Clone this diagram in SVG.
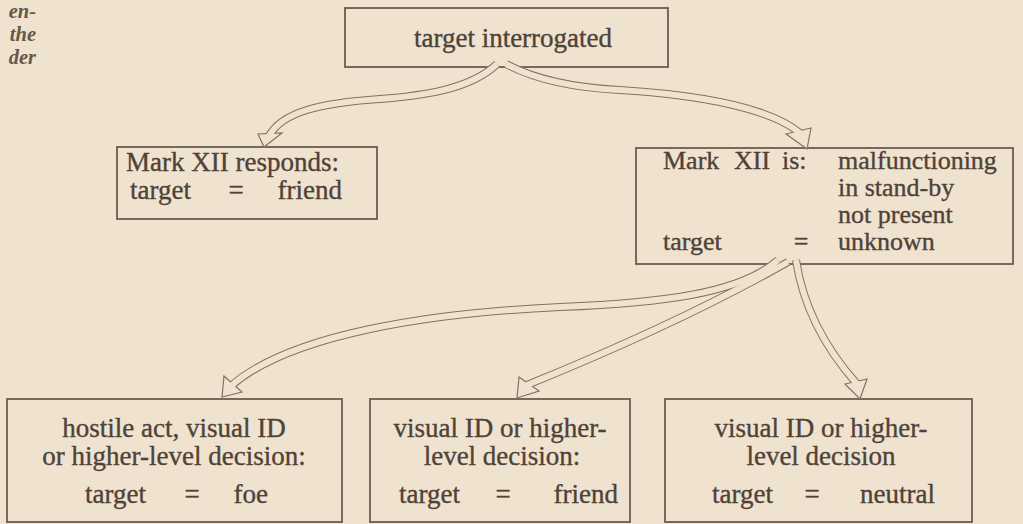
<svg xmlns="http://www.w3.org/2000/svg" xmlns:xlink="http://www.w3.org/1999/xlink" width="1023" height="524" viewBox="0 0 1023 524">
<style>
.bg{fill:#efe3cf}
.box{fill:none;stroke:#6a5d4f;stroke-width:1.8}
.t{font-family:"Liberation Serif","Times New Roman",serif;font-size:27px;fill:#4f4238;stroke:#4f4238;stroke-width:0.35}
.s{font-size:26px}
.m{text-anchor:middle}
.e{text-anchor:end}
.it{font-family:"Liberation Serif","Times New Roman",serif;font-size:20.5px;font-style:italic;font-weight:bold;fill:#66574a;text-anchor:end}
.outer{fill:none;stroke:#7f7262;stroke-width:8}
.inner{fill:none;stroke:#efe3cf;stroke-width:6}
.head{fill:#efe3cf;stroke:#7f7262;stroke-width:1.2;stroke-linejoin:miter}
</style>
<defs>
<path id="p1" d="M 497 64 C 470 90, 420 96, 380 99 C 320 103, 282 112, 269 136"/>
<path id="p2" d="M 506 64 C 540 82, 580 88, 620 90 C 700 95, 770 108, 800 133"/>
<path id="pA" d="M 778 260 C 740 294, 660 303, 560 307 C 430 313, 290 334, 231 386"/>
<path id="pB" d="M 788 262 Q 680 323, 527 385"/>
<path id="pC" d="M 796 260 C 803 306, 825 348, 857 384"/>
</defs>
<rect class="bg" x="0" y="0" width="1023" height="524"/>
<g id="margin-text">
<text class="it" x="36" y="18">en-</text>
<text class="it" x="36" y="41">the</text>
<text class="it" x="36" y="64">der</text>
</g>
<g id="node-interrogated">
<rect class="box" x="345" y="8" width="323" height="59"/>
<text class="t m" x="513" y="47">target interrogated</text>
</g>
<g id="node-responds">
<rect class="box" x="117" y="147" width="260" height="72"/>
<text class="t" x="126" y="171">Mark XII responds:</text>
<text class="t" x="130" y="199">target</text>
<text class="t m" x="236" y="199">=</text>
<text class="t e" x="342" y="199">friend</text>
</g>
<g id="node-unknown">
<rect class="box" x="636" y="148" width="377" height="116"/>
<text class="t s" y="169"><tspan x="663">Mark</tspan><tspan x="734">XII</tspan><tspan x="782">is:</tspan></text>
<text class="t s" x="838" y="169">malfunctioning</text>
<text class="t s" x="838" y="196">in stand-by</text>
<text class="t s" x="838" y="223">not present</text>
<text class="t s" x="663" y="250">target</text>
<text class="t s m" x="801" y="250">=</text>
<text class="t s" x="838" y="250">unknown</text>
</g>
<g id="node-foe">
<rect class="box" x="7" y="399" width="335" height="123"/>
<text class="t m" x="174" y="437">hostile act, visual ID</text>
<text class="t m" x="174" y="465">or higher-level decision:</text>
<text class="t" x="85" y="503">target</text>
<text class="t m" x="192" y="503">=</text>
<text class="t e" x="268" y="503">foe</text>
</g>
<g id="node-friend">
<rect class="box" x="370" y="399" width="260" height="123"/>
<text class="t m" x="500" y="437">visual ID or higher-</text>
<text class="t m" x="502" y="465">level decision:</text>
<text class="t" x="399" y="503">target</text>
<text class="t m" x="503" y="503">=</text>
<text class="t e" x="618" y="503">friend</text>
</g>
<g id="node-neutral">
<rect class="box" x="665" y="399" width="307" height="123"/>
<text class="t m" x="821" y="437">visual ID or higher-</text>
<text class="t m" x="821" y="465">level decision</text>
<text class="t" x="712" y="503">target</text>
<text class="t m" x="812" y="503">=</text>
<text class="t e" x="935" y="503">neutral</text>
</g>
<g id="connectors">
<g id="shaft-outlines">
<use xlink:href="#p1" class="outer"/>
<use xlink:href="#p2" class="outer"/>
<use xlink:href="#pA" class="outer"/>
<use xlink:href="#pB" class="outer"/>
<use xlink:href="#pC" class="outer"/>
</g>
<g id="arrowheads">
<polygon class="head" points="258,134 282,133 264,147"/>
<polygon class="head" points="786,134 811,128 807,149"/>
<polygon class="head" points="224,376 242,392 222,397"/>
<polygon class="head" points="519,377 539,391 517,398"/>
<polygon class="head" points="845,384 867,379 860,399"/>
</g>
<g id="shaft-interiors">
<use xlink:href="#p1" class="inner"/>
<use xlink:href="#p2" class="inner"/>
<use xlink:href="#pA" class="inner"/>
<use xlink:href="#pB" class="inner"/>
<use xlink:href="#pC" class="inner"/>
</g>
</g>
</svg>
